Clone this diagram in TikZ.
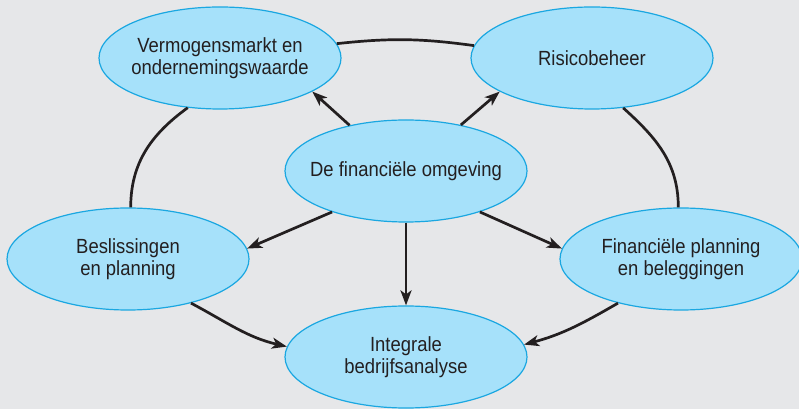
\documentclass[tikz,border=0pt]{standalone}
\usepackage{fontspec}
\setmainfont{Liberation Sans}[FakeStretch=0.9]
\usepackage{tikz}
\usetikzlibrary{shapes.geometric}
\usetikzlibrary{arrows.meta}
\definecolor{paper}{RGB}{230, 231, 233}
\definecolor{skyfill}{RGB}{166, 225, 250}
\definecolor{skyline}{RGB}{26, 167, 225}
\definecolor{ink}{RGB}{35, 31, 32}
\tikzset{
  bubble/.style={ellipse, draw=skyline, fill=skyfill, line width=1.2pt,
                 minimum width=242pt, minimum height=102pt, inner sep=0pt},
  txt/.style={align=center, text=ink, font=\fontsize{20.5pt}{22pt}\selectfont},
  ring/.style={draw=ink, line width=2.7pt},
  flow/.style={ring, -{Stealth[length=15pt,width=11pt,inset=4pt]}}
}

\begin{document}
\begin{tikzpicture}[x=1pt, y=1pt]
            \fill[paper] (0,0) rectangle (799,409);
            \useasboundingbox (0,0) rectangle (799,409);
            \node[bubble, label={[txt]center:Vermogensmarkt en\\ondernemingswaarde}] (verm) at (220, 351) {};
            \node[bubble, label={[txt]center:Risicobeheer}]                           (risk) at (592, 351) {};
            \node[bubble, label={[txt]center:De financiële omgeving}]                 (omg)  at (406, 238) {};
            \node[bubble, label={[txt]center:Beslissingen\\en planning}]              (bes)  at (128, 150) {};
            \node[bubble, label={[txt]center:Financiële planning\\en beleggingen}]    (fin)  at (681, 150) {};
            \node[bubble, label={[txt]center:Integrale\\bedrijfsanalyse}]             (int)  at (406,  52) {};
            \draw[ring] (verm.7)   to[bend left=7]    (risk.174);
            \draw[ring] (verm.237) to[out=216, in=90] (bes.87);
            \draw[ring] (risk.302) to[out=318, in=90] (fin.93);
            \draw[flow] (bes.325)  to[out=-28, in=167] (int.175);
            \draw[flow] (fin.215)  to[out=210, in=15]  (int.6);
            \draw[flow] (omg.141) -- (verm.340);
            \draw[flow] (omg.40)  -- (risk.200);
            \draw[flow] (omg.209) -- (bes.5);
            \draw[flow] (omg.331) -- (fin.175);
            \draw[flow] (omg.south) -- (int.north);
\end{tikzpicture}
\end{document}
